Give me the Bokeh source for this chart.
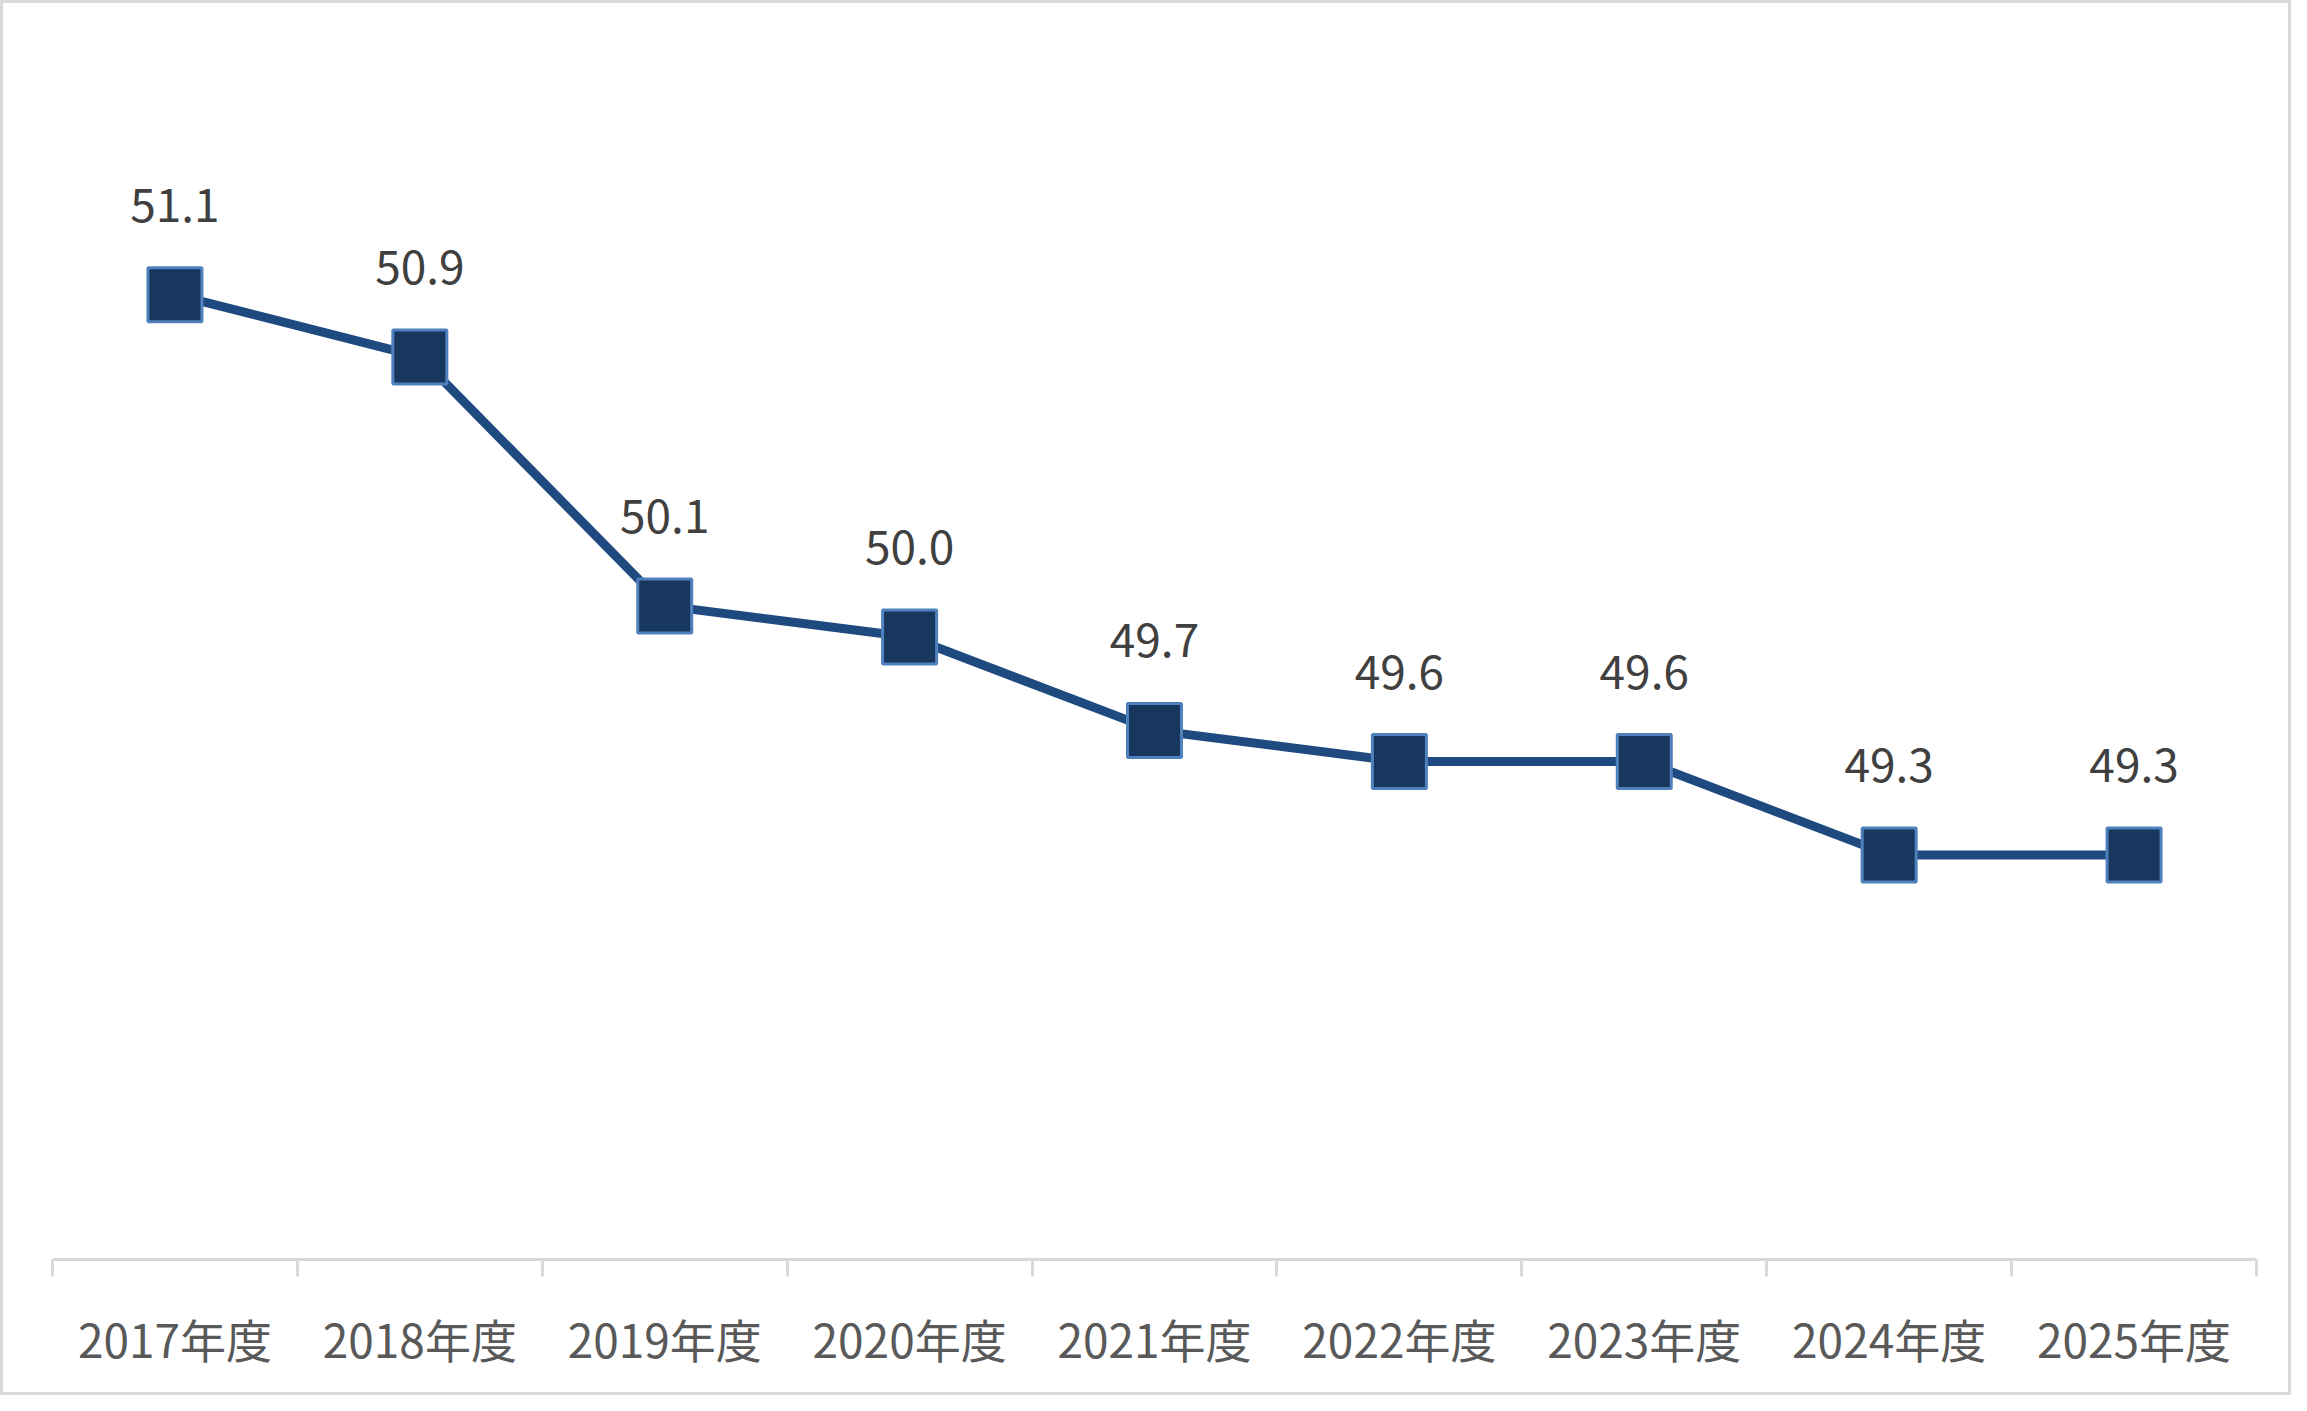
from bokeh.plotting import figure
from bokeh.models import FixedTicker, Range1d, ColumnDataSource
from bokeh.core.properties import value
from bokeh.embed import file_html
from bokeh.resources import INLINE

categories = ["2017年度", "2018年度", "2019年度", "2020年度", "2021年度",
              "2022年度", "2023年度", "2024年度", "2025年度"]
values = [51.1, 50.9, 50.1, 50.0, 49.7, 49.6, 49.6, 49.3, 49.3]
y_min, y_max = 48, 52

xs = [i + 0.5 for i in range(len(categories))]
labels = ["%.1f" % v for v in values]
src = ColumnDataSource(dict(x=xs, y=values, label=labels))

p = figure(width=2285, height=1389,
           x_range=Range1d(0, len(categories)), y_range=Range1d(y_min, y_max),
           output_backend="svg", toolbar_location=None,
           min_border_left=49, min_border_right=38,
           min_border_top=11, min_border_bottom=139)
p.styles = {"border": "3px solid #D9D9D9", "box-sizing": "content-box"}
p.background_fill_color = "white"
p.border_fill_color = "white"
p.outline_line_color = None
p.xgrid.visible = False
p.ygrid.visible = False
p.yaxis.visible = False

xa = p.xaxis[0]
xa.ticker = FixedTicker(ticks=xs, minor_ticks=list(range(len(categories) + 1)))
xa.major_label_overrides = {x: c for x, c in zip(xs, categories)}
xa.major_tick_line_color = None
xa.major_tick_in = 0
xa.major_tick_out = 0
xa.minor_tick_in = 0
xa.minor_tick_out = 17
xa.minor_tick_line_color = "#D9D9D9"
xa.minor_tick_line_width = 3
xa.axis_line_color = "#D9D9D9"
xa.axis_line_width = 3
xa.major_label_text_font = "Noto Sans CJK JP"
xa.major_label_text_font_size = "46px"
xa.major_label_text_color = "#595959"
xa.major_label_standoff = 28

p.line("x", "y", source=src, line_color="#1F4A80", line_width=9)
p.scatter("x", "y", source=src, marker="square", size=54,
          fill_color="#17375E", line_color="#4F81BD", line_width=3)
p.text("x", "y", text="label", source=src,
       text_font=value("Noto Sans CJK JP"), text_font_size="46px",
       text_color="#404040", text_align="center", text_baseline="alphabetic",
       y_offset=-90)

open("out.html", "w").write(file_html(p, INLINE))
